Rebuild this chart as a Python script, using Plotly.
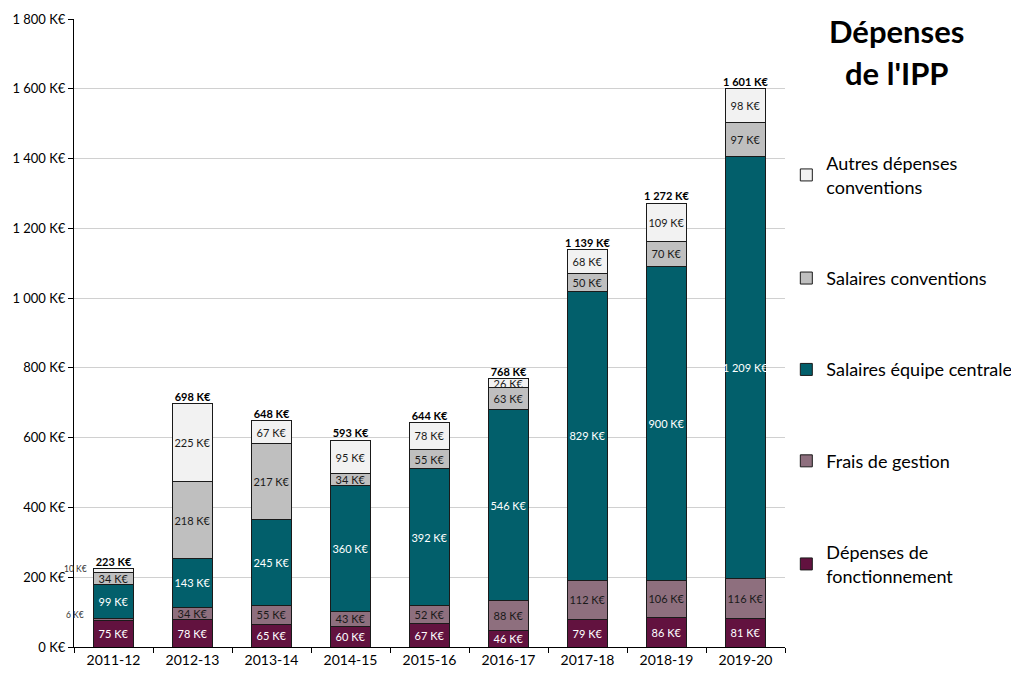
import plotly.graph_objects as go

years = ["2011-12", "2012-13", "2013-14", "2014-15", "2015-16",
         "2016-17", "2017-18", "2018-19", "2019-20"]
fonctionnement = [75, 78, 65, 60, 67, 46, 79, 86, 81]
frais_gestion = [6, 34, 55, 43, 52, 88, 112, 106, 116]
salaires_equipe = [99, 143, 245, 360, 392, 546, 829, 900, 1209]
salaires_conv = [34, 218, 217, 34, 55, 63, 50, 70, 97]
autres = [10, 225, 67, 95, 78, 26, 68, 109, 98]
totals = [223, 698, 648, 593, 644, 768, 1139, 1272, 1601]
y_ticks = [0, 200, 400, 600, 800, 1000, 1200, 1400, 1600, 1800]

FONT = "Lato"


def fmt(v):
    return f"{v:,}".replace(",", " ") + " K€"


series = [
    ("Dépenses de<br>fonctionnement", fonctionnement, "#62123F", "white"),
    ("Frais de gestion", frais_gestion, "#8E6F7E", "#1a1a1a"),
    ("Salaires équipe centrale", salaires_equipe, "#025F6B", "white"),
    ("Salaires conventions", salaires_conv, "#BFBFBF", "#1a1a1a"),
    ("Autres dépenses<br>conventions", autres, "#F2F2F2", "#1a1a1a"),
]

fig = go.Figure()
for i, (name, vals, color, tcol) in enumerate(series):
    # tiny segments of the first bar are labelled outside (annotations)
    texts = [("" if v < 20 else fmt(v)) for v in vals]
    fig.add_trace(go.Bar(
        x=years, y=vals, name=name, legendgroup=f"g{i}",
        legendrank=100 - i,
        marker=dict(color=color, line=dict(color="#1a1a1a", width=1)),
        text=texts, textposition="inside", insidetextanchor="middle",
        textangle=0, constraintext="none",
        textfont=dict(family=FONT, size=11, color=tcol),
        hoverinfo="skip",
    ))

fig.add_trace(go.Scatter(
    x=years, y=totals, mode="text", showlegend=False,
    text=[fmt(t) for t in totals], texttemplate="<b>%{text}</b>",
    textposition="top center",
    textfont=dict(family=FONT, size=11, color="black"),
    hoverinfo="skip",
))

# small outside labels for the first bar's thin segments
fig.add_annotation(x=years[0], y=sum([fonctionnement[0], frais_gestion[0],
                                      salaires_equipe[0], salaires_conv[0]]) + autres[0] / 2 + 5,
                   text=fmt(autres[0]), showarrow=False, xshift=-38,
                   font=dict(family=FONT, size=8.5, color="#333"))
fig.add_annotation(x=years[0], y=fonctionnement[0] + frais_gestion[0] / 2 + 14,
                   text=fmt(frais_gestion[0]), showarrow=False, xshift=-39,
                   font=dict(family=FONT, size=8.5, color="#333"))

for line, ypix in (("Dépenses", 31), ("de l'IPP", 73)):
    fig.add_annotation(xref="paper", yref="paper", x=1.157,
                       y=1 + (19 - ypix) / 628,
                       xanchor="center", yanchor="middle", borderpad=0,
                       text=f"<b>{line}</b>", showarrow=False,
                       font=dict(family=FONT, size=31, color="black"))

# page body has an 8px margin: size/margins compensate so the plot area
# lands at the reference pixel positions
fig.update_layout(
    width=1003, height=662,
    margin=dict(l=66, r=226, t=11, b=23, autoexpand=False),
    barmode="stack", bargap=0.5,
    plot_bgcolor="white", paper_bgcolor="white",
    font=dict(family=FONT, size=12, color="black"),
    uniformtext=dict(minsize=11, mode="show"),
    legend=dict(xref="container", yref="container",
                x=0.776, y=0.793, xanchor="left", yanchor="top",
                traceorder="grouped", tracegroupgap=65, maxheight=620,
                font=dict(family=FONT, size=18, color="black"),
                itemwidth=30, bgcolor="rgba(0,0,0,0)"),
    xaxis=dict(type="category", range=[-0.5, len(years) - 0.5],
               showline=True, linecolor="black",
               ticks="outside", tickson="boundaries", ticklen=5,
               tickcolor="black", showgrid=False,
               tickfont=dict(family=FONT, size=14)),
    yaxis=dict(range=[0, 1800], tickvals=y_ticks,
               ticktext=[fmt(t) for t in y_ticks],
               showline=True, linecolor="black", ticks="outside",
               ticklen=5, tickcolor="black", showgrid=True,
               gridcolor="#D0D0D0", gridwidth=1, zeroline=False,
               tickfont=dict(family=FONT, size=13)),
)

fig.write_html("out.html")
